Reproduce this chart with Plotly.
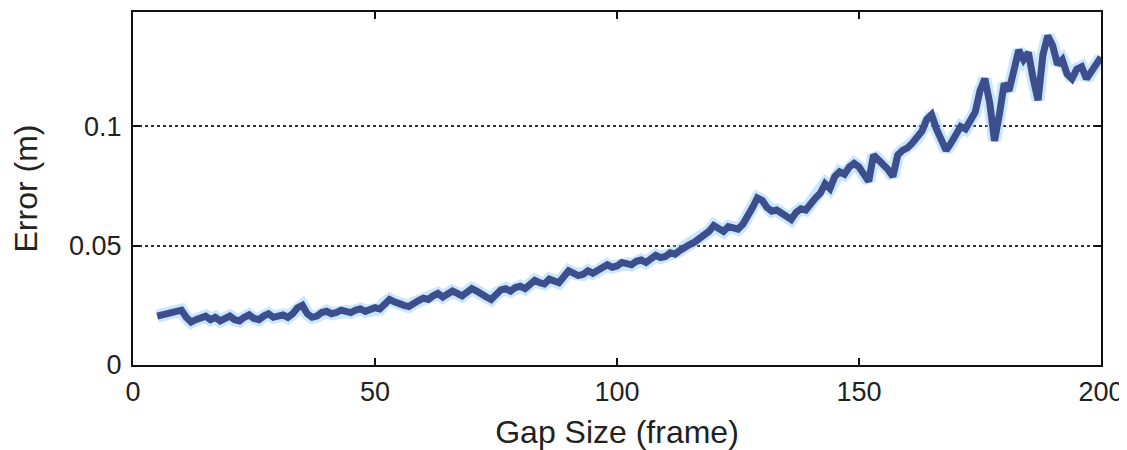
import plotly.graph_objects as go

gap_size = list(range(5, 201))
error_m = [
    0.0205, 0.0210, 0.0215, 0.0220, 0.0225,
    0.0230, 0.0200, 0.0180, 0.0190, 0.0195,
    0.0205, 0.0190, 0.0200, 0.0185, 0.0195,
    0.0205, 0.0190, 0.0185, 0.0200, 0.0210,
    0.0195, 0.0190, 0.0205, 0.0215, 0.0200,
    0.0205, 0.0210, 0.0200, 0.0215, 0.0240,
    0.0250, 0.0215, 0.0200, 0.0205, 0.0220,
    0.0225, 0.0215, 0.0220, 0.0230, 0.0225,
    0.0220, 0.0230, 0.0235, 0.0225, 0.0230,
    0.0240, 0.0235, 0.0260, 0.0275, 0.0265,
    0.0255, 0.0250, 0.0245, 0.0260, 0.0270,
    0.0280, 0.0275, 0.0290, 0.0300, 0.0285,
    0.0295, 0.0310, 0.0300, 0.0290, 0.0305,
    0.0320, 0.0310, 0.0295, 0.0285, 0.0275,
    0.0300, 0.0315, 0.0320, 0.0310, 0.0325,
    0.0330, 0.0320, 0.0340, 0.0355, 0.0345,
    0.0340, 0.0360, 0.0355, 0.0345, 0.0370,
    0.0395, 0.0385, 0.0375, 0.0380, 0.0395,
    0.0385, 0.0395, 0.0410, 0.0420, 0.0410,
    0.0415, 0.0430, 0.0425, 0.0420, 0.0435,
    0.0440, 0.0430, 0.0445, 0.0460, 0.0450,
    0.0455, 0.0470, 0.0465, 0.0480, 0.0495,
    0.0505, 0.0515, 0.0530, 0.0545, 0.0560,
    0.0585, 0.0575, 0.0560, 0.0580, 0.0575,
    0.0570, 0.0590, 0.0620, 0.0660, 0.0700,
    0.0690, 0.0660, 0.0645, 0.0650, 0.0635,
    0.0620, 0.0610, 0.0640, 0.0655, 0.0650,
    0.0680, 0.0700, 0.0720, 0.0760, 0.0740,
    0.0790, 0.0810, 0.0800, 0.0830, 0.0845,
    0.0830, 0.0800, 0.0770, 0.0880, 0.0860,
    0.0850, 0.0820, 0.0790, 0.0880, 0.0900,
    0.0910, 0.0930, 0.0950, 0.0980, 0.1030,
    0.1050, 0.0990, 0.0940, 0.0900, 0.0930,
    0.0960, 0.1000, 0.0990, 0.1020, 0.1060,
    0.1150, 0.1200, 0.1100, 0.0940, 0.1050,
    0.1180, 0.1150, 0.1250, 0.1320, 0.1280,
    0.1310, 0.1200, 0.1110, 0.1300, 0.1380,
    0.1340, 0.1260, 0.1280, 0.1220, 0.1200,
    0.1240, 0.1250, 0.1200, 0.1230, 0.1260,
    0.1290,
]

x_ticks = [0, 50, 100, 150, 200]
y_ticks = [0, 0.05, 0.1]
y_tick_labels = ["0", "0.05", "0.1"]

font_family = "Liberation Sans, Arial, sans-serif"

fig = go.Figure()
fig.add_trace(go.Scatter(
    x=gap_size, y=error_m, mode="lines",
    line=dict(color="rgba(140,200,255,0.45)", width=13),
    hoverinfo="skip", showlegend=False,
))
fig.add_trace(go.Scatter(
    x=gap_size, y=error_m, mode="lines",
    line=dict(color="#3c4f8c", width=7),
    showlegend=False,
))

# page body has an 8px default margin, so the figure is sized/offset for it
fig.update_layout(
    width=1119, height=442,
    margin=dict(l=125, r=26, t=4, b=85),
    paper_bgcolor="white", plot_bgcolor="white",
    font=dict(family=font_family, size=27, color="#222222"),
)
fig.update_xaxes(
    range=[0, 200], tickvals=x_ticks,
    ticks="inside", ticklen=7, tickwidth=2, tickcolor="#111",
    showline=True, linecolor="#111", linewidth=2, mirror="ticks",
    showgrid=False, zeroline=False, automargin=False,
    ticklabelstandoff=2,
    title=dict(text="Gap Size (frame)", standoff=16),
)
fig.update_yaxes(
    range=[0, 0.148], tickvals=y_ticks, ticktext=y_tick_labels,
    ticks="inside", ticklen=7, tickwidth=2, tickcolor="#111",
    showline=True, linecolor="#111", linewidth=2, mirror="ticks",
    showgrid=True, gridcolor="#333", gridwidth=1.5, griddash="dot",
    zeroline=False, automargin=False,
    ticklabelstandoff=4,
    title=dict(text="Error (m)", standoff=24),
)

fig.write_html("out.html")
